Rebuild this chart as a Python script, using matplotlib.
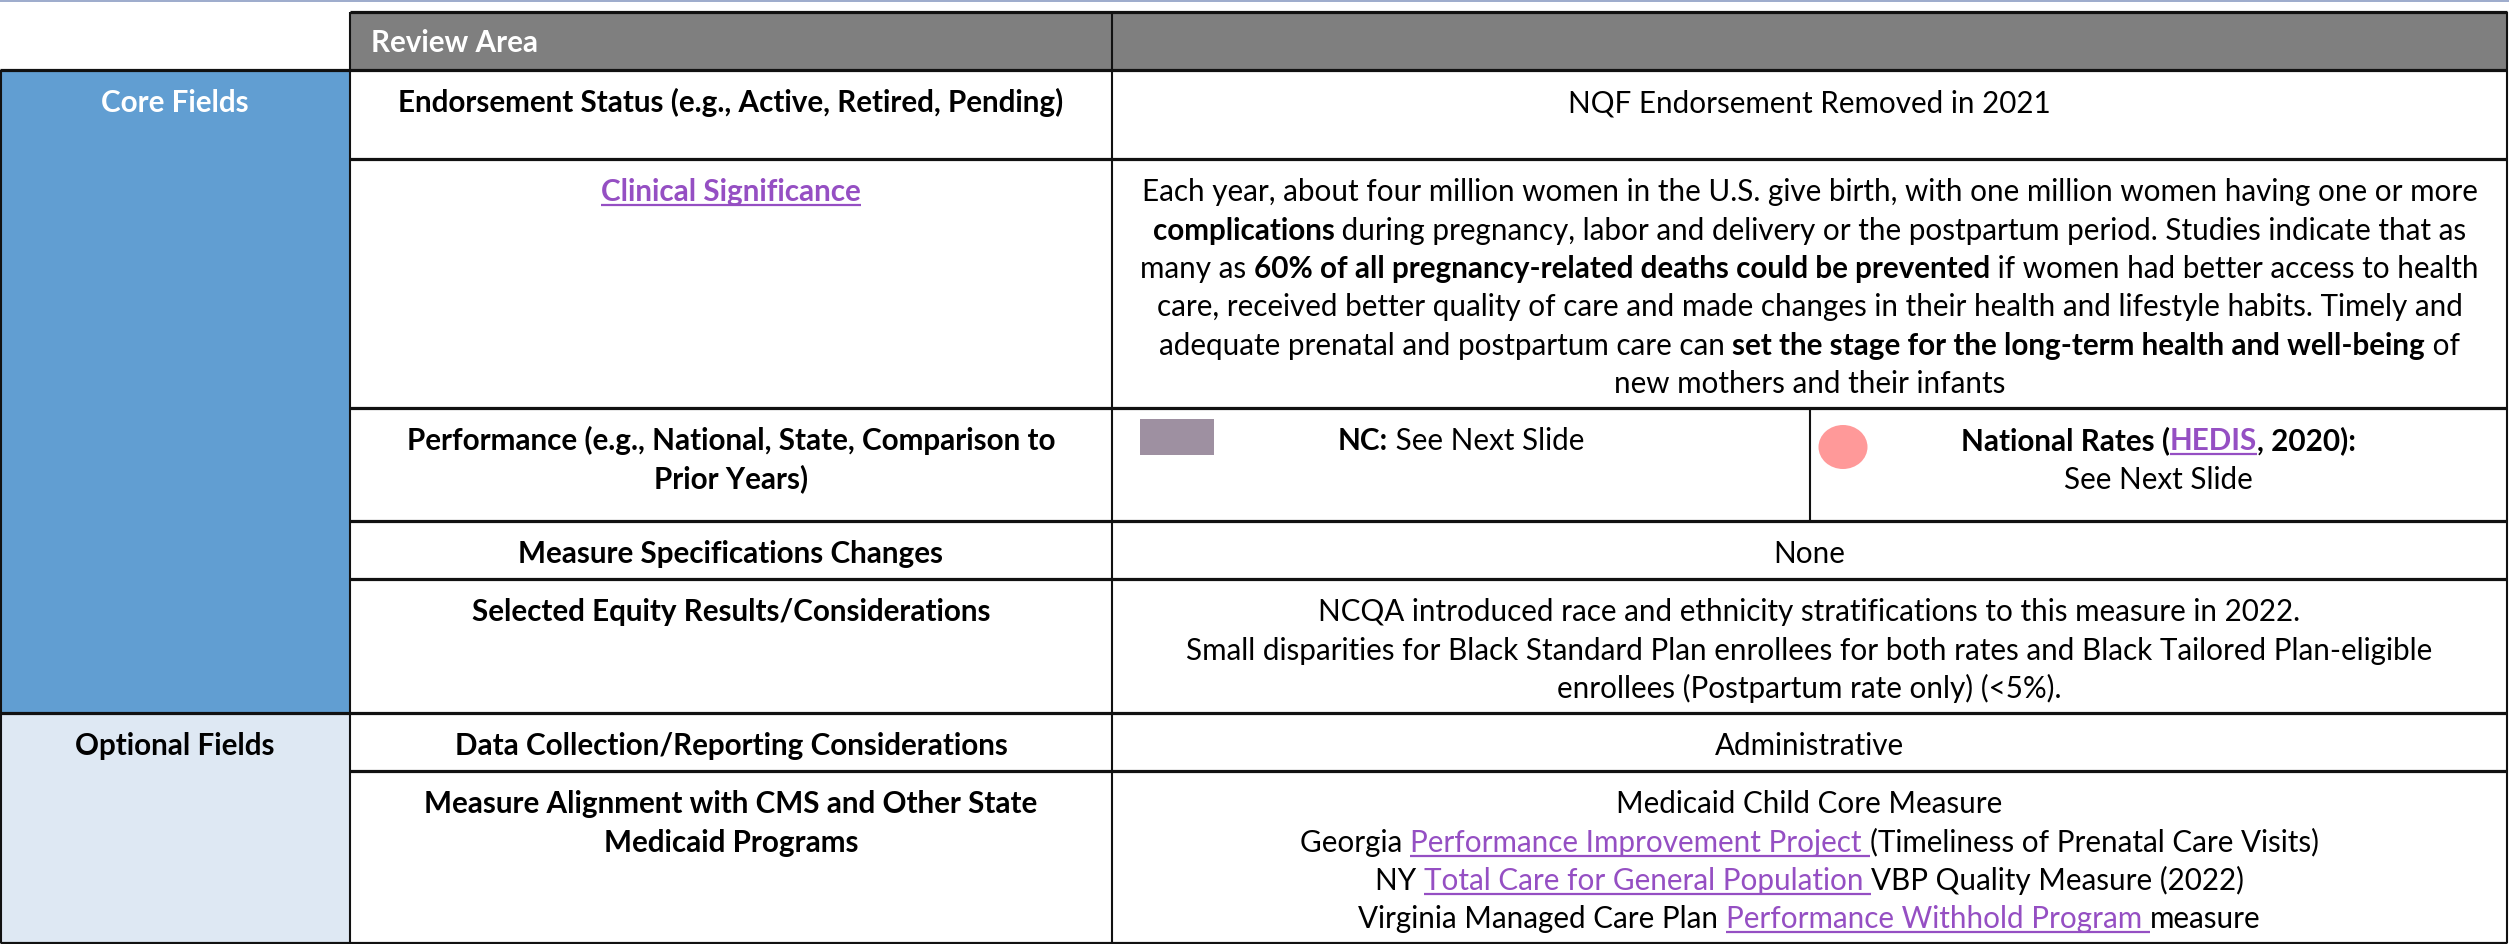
import matplotlib.pyplot as plt
from matplotlib.patches import Rectangle, Ellipse

plt.rcParams['font.family'] = ['Lato', 'DejaVu Sans']

# ---- content ----
header_label = "Review Area"
group_names = ["Core Fields", "Optional Fields"]
group_spans = [(0, 5), (5, 7)]          # rows covered by each group

review_areas = [
    ["Endorsement Status (e.g., Active, Retired, Pending)"],
    ["Clinical Significance"],
    ["Performance (e.g., National, State, Comparison to", "Prior Years)"],
    ["Measure Specifications Changes"],
    ["Selected Equity Results/Considerations"],
    ["Data Collection/Reporting Considerations"],
    ["Measure Alignment with CMS and Other State", "Medicaid Programs"],
]
review_styles = ["b", "bl", "b", "b", "b", "b", "b"]

# each line is a list of (text, style); n = normal, b = bold, l = link
details = [
    [[("NQF Endorsement Removed in 2021", "n")]],
    [
        [("Each year, about four million women in the U.S. give birth, with one million women having one or more", "n")],
        [("complications", "b"), (" during pregnancy, labor and delivery or the postpartum period. Studies indicate that as", "n")],
        [("many as ", "n"), ("60% of all pregnancy-related deaths could be prevented", "b"), (" if women had better access to health", "n")],
        [("care, received better quality of care and made changes in their health and lifestyle habits. Timely and", "n")],
        [("adequate prenatal and postpartum care can ", "n"), ("set the stage for the long-term health and well-being", "b"), (" of", "n")],
        [("new mothers and their infants", "n")],
    ],
    None,
    [[("None", "n")]],
    [
        [("NCQA introduced race and ethnicity stratifications to this measure in 2022.", "n")],
        [("Small disparities for Black Standard Plan enrollees for both rates and Black Tailored Plan-eligible", "n")],
        [("enrollees (Postpartum rate only) (<5%).", "n")],
    ],
    [[("Administrative", "n")]],
    [
        [("Medicaid Child Core Measure", "n")],
        [("Georgia ", "n"), ("Performance Improvement Project ", "l"), ("(Timeliness of Prenatal Care Visits)", "n")],
        [("NY ", "n"), ("Total Care for General Population ", "l"), ("VBP Quality Measure (2022)", "n")],
        [("Virginia Managed Care Plan ", "n"), ("Performance Withhold Program ", "l"), ("measure", "n")],
    ],
]

perf_nc = [[("NC:", "b"), (" See Next Slide", "n")]]
perf_national = [[("National Rates (", "b"), ("HEDIS", "bl"), (", 2020):", "b")],
                 [("See Next Slide", "n")]]

# ---- layout ----
W, H = 2509, 944
col_x = [0, 350, 1112, 2507]
split_x = 1810
head_top, head_bot = 12, 70
row_y = [70, 159, 408, 521, 579, 713, 771, 943]
first_off = 31.5
gap = 38.4

core_blue = '#619ed2'
opt_blue = '#dee8f3'
head_gray = '#7f7f7f'
link_col = '#954fc3'
group_fill = [core_blue, opt_blue]
group_text = ['white', 'black']

fig = plt.figure(figsize=(W / 100, H / 100), dpi=100)
ax = fig.add_axes([0, 0, 1, 1])
ax.set_xlim(0, W)
ax.set_ylim(H, 0)
ax.axis('off')
r = fig.canvas.get_renderer()


def width_of(s, size, weight):
    t = ax.text(0, 0, "|" + s + "|", fontsize=size, fontweight=weight)
    w = t.get_window_extent(r).width
    t.remove()
    t = ax.text(0, 0, "||", fontsize=size, fontweight=weight)
    w -= t.get_window_extent(r).width
    t.remove()
    return w


# fit font size so the first paragraph line spans like the original
probe = details[1][0][0][0]
fs = 20 * 1337 / width_of(probe, 20, 'normal')
px = fs * 100 / 72


def draw_line(runs, xc, yc, color='black'):
    ws = [width_of(t, fs, 'bold' if 'b' in st else 'normal') for t, st in runs]
    x = xc - sum(ws) / 2
    base = yc + 0.36 * px
    for (t, st), w in zip(runs, ws):
        c = link_col if 'l' in st else color
        ax.text(x, base, t, fontsize=fs, fontweight='bold' if 'b' in st else 'normal',
                color=c, ha='left', va='baseline')
        if 'l' in st:
            ax.plot([x, x + w], [base + 4, base + 4], color=link_col, lw=1.6,
                    solid_capstyle='butt')
        x += w


# fills
ax.add_patch(Rectangle((col_x[1], head_top), col_x[3] - col_x[1], head_bot - head_top,
                       facecolor=head_gray, edgecolor='none'))
for (a, b), fc in zip(group_spans, group_fill):
    ax.add_patch(Rectangle((col_x[0], row_y[a]), col_x[1] - col_x[0], row_y[b] - row_y[a],
                           facecolor=fc, edgecolor='none'))
ax.add_patch(Rectangle((1140, 419), 74, 36, facecolor='#9e90a1', edgecolor='none'))
ax.add_patch(Ellipse((1843, 447), 49, 44, facecolor='#ff9999', edgecolor='none'))

# grid lines
ax.plot([0, W], [0.8, 0.8], color='#8c9dc3', lw=1.2)
hl = dict(color='#111111', lw=2.3, solid_capstyle='butt')
vl = dict(color='#111111', lw=1.5, solid_capstyle='butt')
ax.plot([col_x[1], col_x[3]], [head_top, head_top], **hl)
for i, y in enumerate(row_y):
    full = i == 0 or any(y == row_y[a] for a, _ in group_spans) or i == len(row_y) - 1
    ax.plot([col_x[0] if full else col_x[1], col_x[3]], [y, y], **hl)
ax.plot([col_x[0] + 1, col_x[0] + 1], [head_bot, row_y[-1]], **vl)
for x in col_x[1:]:
    ax.plot([x, x], [head_top, row_y[-1]], **vl)
ax.plot([split_x, split_x], [row_y[2], row_y[3]], **vl)

# header text
ax.text(371, (head_top + head_bot) / 2 + 0.36 * px, header_label, fontsize=fs,
        fontweight='bold', color='white', ha='left', va='baseline')

# group labels
for name, (a, b), tc in zip(group_names, group_spans, group_text):
    draw_line([(name, 'b')], (col_x[0] + col_x[1]) / 2, row_y[a] + first_off, tc)

# review area column
mid_c = (col_x[1] + col_x[2]) / 2
for i, lines in enumerate(review_areas):
    for j, ln in enumerate(lines):
        draw_line([(ln, review_styles[i])], mid_c, row_y[i] + first_off + j * gap)

# detail column
det_c = (col_x[2] + col_x[3]) / 2
for i, lines in enumerate(details):
    if lines is None:
        continue
    for j, runs in enumerate(lines):
        draw_line(runs, det_c, row_y[i] + first_off + j * gap)

# performance split cell
for j, runs in enumerate(perf_nc):
    draw_line(runs, (col_x[2] + split_x) / 2, row_y[2] + first_off + j * gap)
for j, runs in enumerate(perf_national):
    draw_line(runs, (split_x + col_x[3]) / 2, row_y[2] + first_off + j * gap)

fig.savefig('out.png', dpi=100)
